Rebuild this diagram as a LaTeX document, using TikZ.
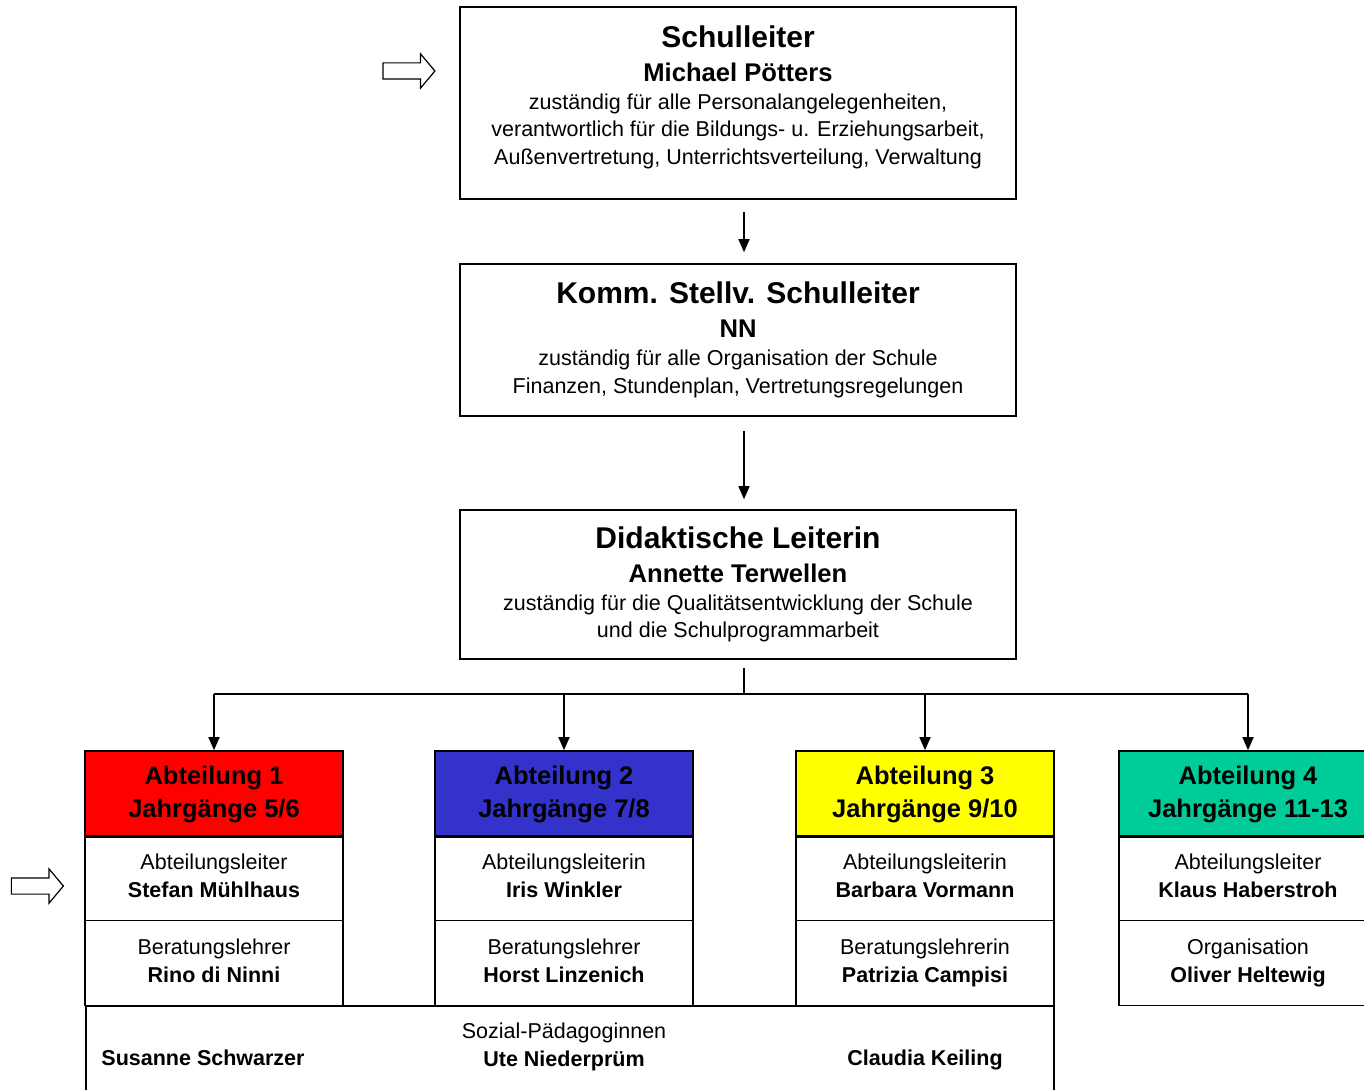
\documentclass[tikz,border=0pt]{standalone}
\usepackage{fontspec}
\setmainfont{Liberation Sans}
\usetikzlibrary{arrows.meta,shapes.arrows}

\definecolor{abtrot}{HTML}{FF0000}
\definecolor{abtblau}{HTML}{3333CC}
\definecolor{abtgelb}{HTML}{FFFF00}
\definecolor{abtgruen}{HTML}{00CC99}

\newcommand{\lkopf}{\fontsize{30}{34}\selectfont\bfseries}
\newcommand{\lname}{\fontsize{25.6}{30}\selectfont\bfseries}
\newcommand{\ltext}{\fontsize{21.5}{27.5}\selectfont\mdseries}
\newcommand{\akopf}{\fontsize{25.5}{33}\selectfont\bfseries}
\newcommand{\atext}{\fontsize{21.5}{28}\selectfont}

\tikzset{
	leitbox/.style={draw, line width=1.6, minimum width=556, align=center, inner sep=0, font=\ltext},
	kopf/.style={draw, line width=1.6, minimum width=258, minimum height=86, align=center, inner sep=0, font=\akopf},
	zelle/.style={draw, line width=1.6, minimum width=258, minimum height=85, align=center, inner sep=0, font=\atext},
	linie/.style={line width=1.6},
	pfeil/.style={line width=1.6, -{Triangle[length=13pt,width=11pt]}},
	hohlpfeil/.style={single arrow, draw, line width=1.2, inner sep=7.5pt, minimum height=52,
		single arrow head extend=9pt, single arrow tip angle=100}
}

\begin{document}
\begin{tikzpicture}[x=1pt,y=-1pt]
		\useasboundingbox (0,0) rectangle (1364,1089);
		%Schulleitung
		\node[leitbox, minimum height=192] (sl) at (738,103) {{\lkopf Schulleiter}\\[6.5pt]{\lname Michael Pötters}\\[0.5pt]zuständig für alle Personalangelegenheiten,\\verantwortlich für die Bildungs- u. Erziehungsarbeit,\\Außenvertretung, Unterrichtsverteilung, Verwaltung\rule[-16pt]{0pt}{0pt}};
		\node[leitbox, minimum height=152] (ks) at (738,340) {{\lkopf Komm. Stellv. Schulleiter}\\[6.5pt]{\lname NN}\\[0.5pt]zuständig für alle Organisation der Schule\\Finanzen, Stundenplan, Vertretungsregelungen};
		\node[leitbox, minimum height=149] (dl) at (738,584.5) {{\lkopf Didaktische Leiterin}\\[6.5pt]{\lname Annette Terwellen}\\[0.5pt]zuständig für die Qualitätsentwicklung der Schule\\und die Schulprogrammarbeit};
		\node[hohlpfeil] (hinweisA) at (405.5,71) {};
		%arrows between the leaders
		\draw[pfeil, shorten <=12pt, shorten >=11pt] ([xshift=6pt]sl.south) -- ([xshift=6pt]ks.north);
		\draw[pfeil, shorten <=14pt, shorten >=10pt] ([xshift=6pt]ks.south) -- ([xshift=6pt]dl.north);
		%Abteilungen
		\foreach \nr/\xx/\farbe/\jg/\rolle/\leiter/\zweit/\person in {1/214/abtrot/{5/6}/Abteilungsleiter/Stefan Mühlhaus/Beratungslehrer/Rino di Ninni,2/564/abtblau/{7/8}/Abteilungsleiterin/Iris Winkler/Beratungslehrer/Horst Linzenich,3/925/abtgelb/{9/10}/Abteilungsleiterin/Barbara Vormann/Beratungslehrerin/Patrizia Campisi,4/1248/abtgruen/11-13/Abteilungsleiter/Klaus Haberstroh/Organisation/Oliver Heltewig}{
			\node[kopf, fill=\farbe] (a\nr) at (\xx,794) {\strut Abteilung \nr\\Jahrgänge \jg\strut};
			\node[zelle] (l\nr) at (\xx,878) {\strut\rolle\\\textbf{\leiter}\strut};
			\node[zelle] (b\nr) at (\xx,963) {\strut\zweit\\\textbf{\person}\strut};
		}
		\node[hohlpfeil] (hinweisB) at (34,886) {};
		%Sozialpaedagoginnen
		\node[draw, line width=1.6, minimum width=968, minimum height=94, inner sep=0] (sozial) at (570,1053) {};
		\node[font=\atext\bfseries, inner sep=0] (sp1) at (203,1060) {\strut Susanne Schwarzer\strut};
		\node[font=\atext, align=center, inner sep=0] (sp2) at (564,1047) {\strut Sozial-Pädagoginnen\\\textbf{Ute Niederprüm}\strut};
		\node[font=\atext\bfseries, inner sep=0] (sp3) at (925,1060) {\strut Claudia Keiling\strut};
		%verteiler
		\coordinate (verteiler) at (744,694);
		\draw[linie, shorten <=8pt] ([xshift=6pt]dl.south) -- (verteiler);
		\draw[linie] (a1.north |- verteiler) -- (a4.north |- verteiler);
		\foreach \nr in {1,...,4}{
			\draw[pfeil] (a\nr.north |- verteiler) -- (a\nr.north);
		}
\end{tikzpicture}
\end{document}
